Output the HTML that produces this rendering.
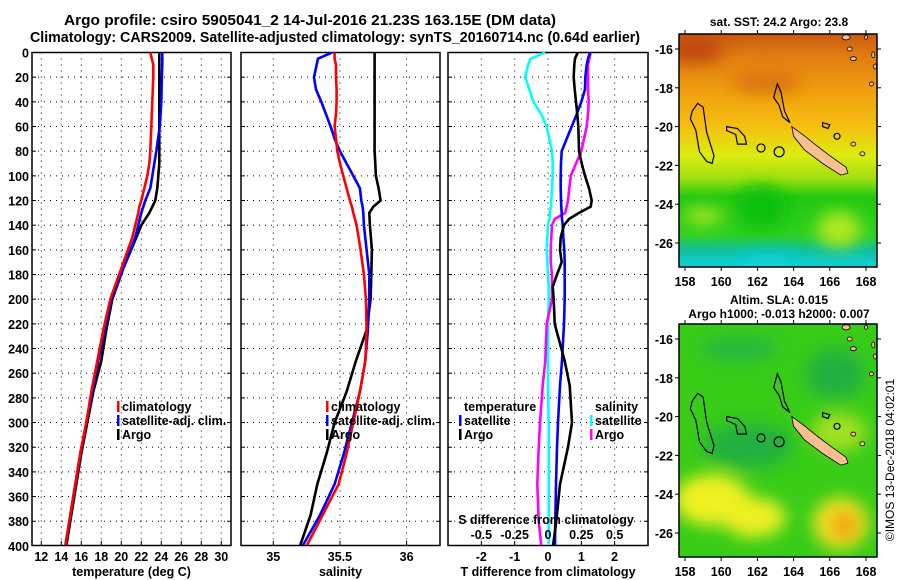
<!DOCTYPE html>
<html><head><meta charset="utf-8"><title>Argo profile</title>
<style>
html,body{margin:0;padding:0;background:#fff;}
svg{display:block;font-family:"Liberation Sans",Arial,sans-serif;font-weight:bold;}
</style></head>
<body>
<svg id="fig" width="900" height="580" viewBox="0 0 900 580" xmlns="http://www.w3.org/2000/svg">
<defs>
<clipPath id="c1"><rect x="32" y="52" width="199" height="493"/></clipPath>
<clipPath id="c2"><rect x="241" y="52" width="199" height="493"/></clipPath>
<clipPath id="c3"><rect x="448" y="52" width="200" height="493"/></clipPath>
<clipPath id="cm1"><rect x="679" y="34" width="198" height="233"/></clipPath>
<clipPath id="cm2"><rect x="679" y="324" width="198" height="233"/></clipPath>
<filter id="blur8" x="-50%" y="-50%" width="200%" height="200%"><feGaussianBlur stdDeviation="8"/></filter>
<linearGradient id="sstg" x1="0" y1="0" x2="0" y2="1">
<stop offset="0" stop-color="#cc5a10"/><stop offset="0.1" stop-color="#e07e10"/>
<stop offset="0.25" stop-color="#f0a010"/><stop offset="0.4" stop-color="#f5c010"/>
<stop offset="0.52" stop-color="#dcec10"/><stop offset="0.62" stop-color="#a0e010"/>
<stop offset="0.7" stop-color="#20c810"/><stop offset="0.86" stop-color="#30d020"/>
<stop offset="0.93" stop-color="#10c0a0"/><stop offset="1" stop-color="#10d0d8"/>
</linearGradient>
</defs>
<g id="titles">
<text x="310" y="25" font-size="14.5" text-anchor="middle" textLength="492" lengthAdjust="spacingAndGlyphs">Argo profile: csiro 5905041_2 14-Jul-2016 21.23S 163.15E (DM data)</text>
<text x="335" y="42" font-size="14.5" text-anchor="middle" textLength="610" lengthAdjust="spacingAndGlyphs">Climatology: CARS2009. Satellite-adjusted climatology: synTS_20160714.nc (0.64d earlier)</text>
</g>
<g id="p1"></g>
<g id="p2"></g>
<g id="p3"></g>
<g id="m1"></g>
<g id="m2"></g>
<text transform="translate(894,460) rotate(-90)" font-size="12" font-weight="normal" text-anchor="middle">©IMOS 13-Dec-2018 04:02:01</text>
</svg>
<script>
// ---- data ----
const tDepth = [0,10,20,40,60,80,90,100,110,120,125,130,140,150,175,200,225,250,275,300,325,350,375,400];
const tClim  = [22.9,23.2,23.2,23.1,23.0,22.9,22.8,22.6,22.3,22.0,21.8,21.7,21.4,21.1,20.0,18.9,18.2,17.6,17.0,16.5,15.9,15.4,14.9,14.4];
const tSat   = [24.1,24.1,24.05,24.0,23.85,23.5,23.3,23.1,22.9,22.4,22.2,22.0,21.7,21.4,20.2,19.0,18.3,17.7,17.1,16.5,15.9,15.4,14.9,14.4];
const tArgo  = [23.8,23.8,23.8,23.8,23.8,23.8,23.8,23.7,23.6,23.4,23.1,22.8,22.0,21.5,20.2,19.1,18.5,18.0,17.2,16.6,16.0,15.5,15.0,14.5];
const sDepth = [0,5,10,20,30,40,50,60,70,80,90,100,110,120,125,130,140,160,180,200,225,250,275,300,325,350,375,400];
const sClim  = [35.46,35.46,35.47,35.47,35.475,35.475,35.47,35.46,35.47,35.48,35.50,35.525,35.55,35.575,35.59,35.60,35.625,35.655,35.68,35.695,35.70,35.69,35.65,35.60,35.55,35.49,35.37,35.25];
const sSat   = [35.44,35.335,35.325,35.305,35.32,35.36,35.395,35.43,35.46,35.50,35.55,35.60,35.65,35.66,35.67,35.675,35.68,35.70,35.72,35.72,35.71,35.69,35.65,35.59,35.53,35.46,35.35,35.22];
const sArgo  = [35.76,35.76,35.76,35.76,35.76,35.76,35.76,35.76,35.76,35.76,35.765,35.77,35.79,35.805,35.75,35.72,35.725,35.74,35.735,35.73,35.70,35.62,35.55,35.46,35.40,35.33,35.28,35.20];
const dDepth = [0,5,10,20,30,40,50,60,70,80,90,100,110,120,125,130,135,140,150,160,170,180,190,200,220,250,270,300,320,350,380,400];
const dTSat  = [1.26,1.2,1.16,1.12,1.11,1.0,0.86,0.71,0.56,0.41,0.39,0.38,0.38,0.39,0.4,0.41,0.42,0.44,0.46,0.49,0.5,0.5,0.5,0.5,0.48,0.42,0.36,0.3,0.27,0.24,0.22,0.21];
const dTArgo = [0.89,0.81,0.79,0.77,0.8,0.84,0.88,0.91,0.92,0.93,1.01,1.11,1.23,1.31,1.28,0.93,0.63,0.48,0.38,0.36,0.41,0.27,0.14,0.17,0.2,0.5,0.65,0.72,0.6,0.36,0.25,0.15];
const dSSat  = [-0.022,-0.13,-0.15,-0.17,-0.14,-0.11,-0.05,-0.01,0.01,0.03,0.035,0.035,0.03,0.025,0.02,0.015,0.01,0.0,-0.005,-0.01,-0.005,0.0,0.005,0.005,0.0,0.0,0.0,0.005,0.005,0.005,0.005,0.005];
const dSArgo = [0.32,0.31,0.3,0.30,0.30,0.305,0.30,0.29,0.27,0.25,0.21,0.17,0.16,0.15,0.14,0.13,0.05,0.03,0.025,0.02,0.02,0.03,0.03,0.03,-0.01,-0.02,-0.04,-0.06,-0.07,-0.08,-0.07,-0.05];
const depthTicks = [0,20,40,60,80,100,120,140,160,180,200,220,240,260,280,300,320,340,360,380,400];
const tTicks = [12,14,16,18,20,22,24,26,28,30];
const sTicks = [35,35.5,36];
const dTTicks = [-2,-1,0,1,2];
const dSTicks = [-0.5,-0.25,0,0.25,0.5];
const lonTicks = [158,160,162,164,166,168];
const latTicks = [-16,-18,-20,-22,-24,-26];

// ---- scales ----
const NS='http://www.w3.org/2000/svg';
const yD = d => 52.5 + d*1.2335;
const xT = t => 41.3 + (t-12)*10;
const xS = s => 273.3 + (s-35)*133.3;
const xDT = v => 548 + v*33.33;
const xDS = v => 548 + v*133.3;
function mk(tag, attrs, parent){const e=document.createElementNS(NS,tag);for(const k in attrs)e.setAttribute(k,attrs[k]);parent.appendChild(e);return e;}
function txt(parent, x, y, s, anchor, size){const e=mk('text',{x:x,y:y,'font-size':size||12,'text-anchor':anchor||'start'},parent);e.textContent=s;return e;}

function panel(g, x0, x1, clipId, xTicksVals, xf, xLabels, xTitle, showY){
  mk('rect',{x:x0,y:52.5,width:x1-x0,height:493,fill:'#fff',stroke:'#000','stroke-width':1.5},g);
  for(const d of depthTicks){ if(d===0||d===400) continue;
    const gl=mk('line',{x1:x0,x2:x1,y1:yD(d),y2:yD(d),stroke:'#000','stroke-width':1,'stroke-dasharray':'1,5'},g);
    
    
    mk('line',{x1:x0,x2:x0+4,y1:yD(d),y2:yD(d),stroke:'#000'},g);
    mk('line',{x1:x1-4,x2:x1,y1:yD(d),y2:yD(d),stroke:'#000'},g);
  }
  xTicksVals.forEach((v,i)=>{
    const x=xf(v);
    const gl=mk('line',{x1:x,x2:x,y1:52.5,y2:545.5,stroke:'#000','stroke-width':1,'stroke-dasharray':'1,5'},g);
    
    
    mk('line',{x1:x,x2:x,y1:541,y2:545.5,stroke:'#000'},g);
    if(xLabels){const t=txt(g,x,561,xLabels[i],'middle',12.5);
      
      }
  });
  if(showY){ for(const d of depthTicks){const t=txt(g,29,yD(d)+5,String(d),'end',12.5);
      
      } }
  const tt=txt(g,(x0+x1)/2,576,xTitle,'middle',12.5);
  
  
}
function series(g, clipId, depths, vals, xf, color, name){
  const pts=depths.map((d,i)=>xf(vals[i]).toFixed(1)+','+yD(d).toFixed(1)).join(' ');
  const p=mk('polyline',{points:pts,fill:'none',stroke:color,'stroke-width':2.6,'stroke-linejoin':'miter','clip-path':'url(#'+clipId+')'},g);
  
  
}
function legend(g, x, y, items){
  items.forEach((it,i)=>{
    if(it[1]) mk('rect',{x:x,y:y+i*14-10,width:2.5,height:11,fill:it[1]},g);
    const t=txt(g,x+5,y+i*14,it[0],'start',12.5);
    
    
  });
}

// Panel 1
const p1=document.getElementById('p1');
panel(p1,32,231,'c1',tTicks,xT,tTicks.map(String),'temperature (deg C)',true);
series(p1,'c1',tDepth,tArgo,xT,'#000','argo-temperature-line');
series(p1,'c1',tDepth,tSat,xT,'#0000ff','satellite-temperature-line');
series(p1,'c1',tDepth,tClim,xT,'#ff0000','climatology-temperature-line');
legend(p1,117,411,[['climatology','#ff0000'],['satellite-adj. clim.','#0000ff'],['Argo','#000']]);

// Panel 2
const p2=document.getElementById('p2');
panel(p2,241,440,'c2',sTicks,xS,['35','35.5','36'],'salinity',false);
series(p2,'c2',sDepth,sArgo,xS,'#000','argo-salinity-line');
series(p2,'c2',sDepth,sSat,xS,'#0000ff','satellite-salinity-line');
series(p2,'c2',sDepth,sClim,xS,'#ff0000','climatology-salinity-line');
legend(p2,326,411,[['climatology','#ff0000'],['satellite-adj. clim.','#0000ff'],['Argo','#000']]);

// Panel 3
const p3=document.getElementById('p3');
panel(p3,448,648,'c3',dTTicks,xDT,['-2','-1','0','1','2'],'T difference from climatology',false);
series(p3,'c3',dDepth,dSSat,xDS,'#00ffff','satellite-salinity-diff-line');
series(p3,'c3',dDepth,dSArgo,xDS,'#ff00ff','argo-salinity-diff-line');
series(p3,'c3',dDepth,dTSat,xDT,'#0000ff','satellite-temperature-diff-line');
series(p3,'c3',dDepth,dTArgo,xDT,'#000','argo-temperature-diff-line');
legend(p3,459,411,[['temperature',null],['satellite','#0000ff'],['Argo','#000']]);
legend(p3,590,411,[['salinity',null],['satellite','#00ffff'],['Argo','#ff00ff']]);
{const t=txt(p3,546,524,'S difference from climatology','middle',12.5);
 
 }
dSTicks.forEach(v=>{const t=txt(p3,xDS(v),539,String(v),'middle',12.5);
 
 });

// Maps
const mx = lon => 685 + (lon-158)*18.1;
function mapFrame(g, top, clip, sst){
  const my = lat => top + 15 + (-lat-16)*19.4;
  const cg=mk('g',{'clip-path':'url(#'+clip+')'},g);
  if(sst){
    mk('rect',{x:679,y:top,width:198,height:233,fill:'url(#sstg)'},cg);
    const bl=mk('g',{filter:'url(#blur8)'},cg);
    mk('ellipse',{cx:mx(158.5),cy:my(-16),rx:30,ry:14,fill:'#c04810'},bl);
    mk('ellipse',{cx:mx(162.5),cy:my(-17.7),rx:35,ry:10,fill:'#d87010'},bl);
    mk('ellipse',{cx:mx(166.5),cy:my(-25.3),rx:22,ry:18,fill:'#b0e820'},bl);
    mk('ellipse',{cx:mx(159.0),cy:my(-24.6),rx:20,ry:8,fill:'#b0e820'},bl);
    mk('ellipse',{cx:mx(162.2),cy:my(-24.2),rx:26,ry:22,fill:'#10c010'},bl);
    mk('ellipse',{cx:mx(162.5),cy:my(-27.0),rx:30,ry:8,fill:'#10d0e0'},bl);
  } else {
    mk('rect',{x:679,y:top,width:198,height:233,fill:'#38cc18'},cg);
    const bl=mk('g',{filter:'url(#blur8)'},cg);
    mk('ellipse',{cx:mx(161.5),cy:my(-21.5),rx:45,ry:22,fill:'#20b040'},bl);
    mk('ellipse',{cx:mx(166.3),cy:my(-17.8),rx:30,ry:25,fill:'#20b040'},bl);
    mk('ellipse',{cx:mx(161),cy:my(-16.5),rx:40,ry:12,fill:'#28b840'},bl);
    mk('ellipse',{cx:mx(166.5),cy:my(-20.8),rx:28,ry:20,fill:'#a0e020'},bl);
    mk('ellipse',{cx:mx(159.5),cy:my(-24.3),rx:38,ry:26,fill:'#eef020'},bl);
    mk('ellipse',{cx:mx(161.8),cy:my(-25.2),rx:32,ry:20,fill:'#eef020'},bl);
    mk('ellipse',{cx:mx(166.6),cy:my(-25.5),rx:28,ry:26,fill:'#f0e020'},bl);
    mk('ellipse',{cx:mx(166.8),cy:my(-25.6),rx:14,ry:13,fill:'#f0a010'},bl);
  }
  const P = arr => arr.map((p,i)=>(i?'L':'M')+mx(p[0]).toFixed(1)+','+my(p[1]).toFixed(1)).join(' ')+' Z';
  const cs={fill:'none',stroke:'#000','stroke-width':1.2};
  mk('path',Object.assign({d:P([[158.7,-18.8],[159.0,-19.0],[159.2,-20.3],[159.6,-21.5],[159.5,-21.9],[159.2,-21.8],[158.8,-21.3],[158.6,-20.2],[158.3,-19.6],[158.4,-19.2]])},cs),cg);
  mk('path',Object.assign({d:P([[160.3,-20.0],[160.9,-20.1],[161.3,-20.5],[161.4,-20.9],[160.9,-20.9],[160.8,-20.4],[160.3,-20.2]])},cs),cg);
  mk('path',Object.assign({d:P([[163.1,-17.8],[163.3,-18.2],[163.5,-19.2],[163.8,-19.8],[163.4,-19.5],[163.2,-18.9],[162.9,-18.5]])},cs),cg);
  mk('path',Object.assign({d:P([[165.6,-19.8],[166.0,-19.9],[165.9,-20.1],[165.6,-20.0]])},cs),cg);
  mk('circle',Object.assign({cx:mx(162.2),cy:my(-21.1),r:4},cs),cg);
  mk('circle',Object.assign({cx:mx(166.4),cy:my(-20.5),r:3},cs),cg);
  const arg=mk('circle',Object.assign({cx:mx(163.2),cy:my(-21.3),r:5},cs),cg);
  
  
  const land={fill:'#f8c090',stroke:'#000','stroke-width':0.8};
  const nc=mk('path',Object.assign({d:P([[163.9,-20.0],[164.5,-20.4],[165.3,-21.0],[166.0,-21.5],[166.9,-22.1],[167.0,-22.4],[166.6,-22.5],[165.6,-21.9],[164.6,-21.2],[164.0,-20.5]])},land),cg);
  
  
  [[166.9,-15.4,4,2.5],[167.1,-16.0,2.5,2],[167.3,-16.5,3,2],[168.4,-16.3,1.5,3],[168.3,-17.8,2,2],[168.0,-15.4,1.5,2],[167.3,-20.9,2.5,2],[167.8,-21.4,2.5,2],[168.5,-16.9,1.5,2.5]].forEach(a=>{
    mk('ellipse',Object.assign({cx:mx(a[0]),cy:my(a[1]),rx:a[2],ry:a[3]},land),cg);
  });
  mk('rect',{x:679,y:top,width:198,height:233,fill:'none',stroke:'#000','stroke-width':1.5},g);
  lonTicks.forEach(l=>{
    mk('line',{x1:mx(l),x2:mx(l),y1:top+233,y2:top+237,stroke:'#000'},g);
    mk('line',{x1:mx(l),x2:mx(l),y1:top,y2:top-4,stroke:'#000'},g);
    const t=txt(g,mx(l),top+252,String(l),'middle',12.5);
    
    
  });
  latTicks.forEach(l=>{
    mk('line',{x1:679,x2:675,y1:my(l),y2:my(l),stroke:'#000'},g);
    mk('line',{x1:877,x2:881,y1:my(l),y2:my(l),stroke:'#000'},g);
    const t=txt(g,673,my(l)+5,String(l),'end',12.5);
    
    
  });
}
const m1=document.getElementById('m1');
mapFrame(m1,34,'cm1',true);
{const t=txt(m1,779,26,'sat. SST: 24.2 Argo: 23.8','middle',12);
 
 }
const m2=document.getElementById('m2');
mapFrame(m2,324,'cm2',false);
{const t=txt(m2,779,304,'Altim. SLA: 0.015','middle',12);
 
 
 const t2=txt(m2,779,318,'Argo h1000: -0.013 h2000: 0.007','middle',12);
 
 }
</script>
</body></html>
